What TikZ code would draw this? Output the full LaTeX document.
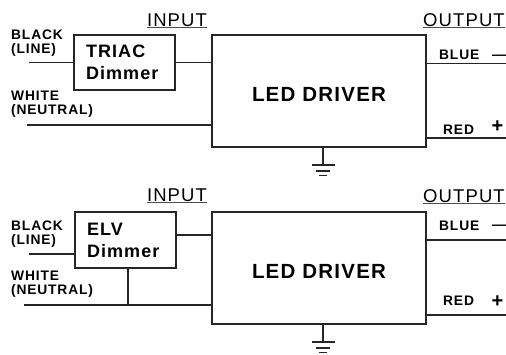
\documentclass[tikz,border=0pt]{standalone}
\usepackage{fontspec}
\setmainfont[LetterSpace=6]{Liberation Sans}
\usetikzlibrary{positioning}

\tikzset{
  wire/.style={draw=black!85, line width=1.8pt},
  box/.style={draw=black!85, line width=1.8pt, rectangle, inner sep=0pt},
  dimbox/.style={box, minimum height=55pt, inner xsep=12pt, text width=77pt, align=left,
    font=\bfseries\fontsize{18}{22}\selectfont},
  drvbox/.style={box, minimum width=214pt, minimum height=112pt, text height=21pt,
    font=\bfseries\fontsize{20.5}{22}\selectfont},
  tag/.style={inner sep=0pt, align=left, font=\bfseries\fontsize{13.8}{14}\selectfont},
  sign/.style={inner sep=0pt, font=\bfseries\fontsize{14}{14}\selectfont},
  head/.style={inner xsep=0pt, inner ysep=1.5pt, font=\fontsize{18.5}{20}\selectfont},
  uline/.style={draw=black!70, line width=1.2pt}
}

\begin{document}
\begin{tikzpicture}[x=1pt, y=-1pt]
 \useasboundingbox (0,0) rectangle (506,354);

 %panel 1: TRIAC
 \node[drvbox] (drv1) at (319,91) {LED DRIVER};
 \node[dimbox] (dim1) at (124.5,62.5) {TRIAC\\Dimmer};
 \node[head, anchor=base] (in1) at (177,26) {INPUT};
 \node[head, anchor=base east] (out1) at (505,26) {OUTPUT};
 \node[tag, anchor=base west] (blk1) at (11,53) {BLACK\\(LINE)};
 \node[tag, anchor=base west] (wht1) at (11,114) {WHITE\\(NEUTRAL)};
 \node[tag, anchor=base west] (blu1) at (439,59) {BLUE};
 \node[tag, anchor=base west] (red1) at (443,134) {RED};
 \node[sign] (mns1) at (499,57.5) {\textemdash};
 \node[sign, font=\bfseries\fontsize{20}{20}\selectfont] (pls1) at (497.5,127) {+};

 \coordinate (l1) at (29,62.5);
 \coordinate (n1) at (27,125);
 \coordinate (b1) at (506,63.5);
 \coordinate (r1) at (506,138);
 \coordinate (g1) at (323,165);
 \draw[wire] (l1) -- (dim1.west);
 \draw[wire] (dim1.east) -- (dim1.east -| drv1.west);
 \draw[wire] (n1) -- (n1 -| drv1.west);
 \draw[wire] (b1 -| drv1.east) -- (b1);
 \draw[wire] (r1 -| drv1.east) -- (r1);
 \draw[wire] (g1 |- drv1.south) -- (g1);

 %panel 2: ELV
 \node[drvbox] (drv2) at (319,268) {LED DRIVER};
 \node[dimbox, minimum height=56pt] (dim2) at (125.5,240) {ELV\\Dimmer};
 \node[head, anchor=base] (in2) at (177,201) {INPUT};
 \node[head, anchor=base east] (out2) at (505,202) {OUTPUT};
 \node[tag, anchor=base west] (blk2) at (11,244) {BLACK\\(LINE)};
 \node[tag, anchor=base west] (wht2) at (11,294) {WHITE\\(NEUTRAL)};
 \node[tag, anchor=base west] (blu2) at (439,230) {BLUE};
 \node[tag, anchor=base west] (red2) at (443,305) {RED};
 \node[sign] (mns2) at (499,227.5) {\textemdash};
 \node[sign, font=\bfseries\fontsize{20}{20}\selectfont] (pls2) at (497.5,301.5) {+};

 \coordinate (l2) at (29,254);
 \coordinate (e2) at (176,235);
 \coordinate (n2) at (24,305);
 \coordinate (j2) at (128,305);
 \coordinate (b2) at (506,240);
 \coordinate (r2) at (506,315);
 \coordinate (g2) at (323,342);
 \draw[wire] (l2) -- (l2 -| dim2.west);
 \draw[wire] (dim2.east |- e2) -- (e2 -| drv2.west);
 \draw[wire] (n2) -- (n2 -| drv2.west);
 \draw[wire] (j2 |- dim2.south) -- (j2);
 \draw[wire] (b2 -| drv2.east) -- (b2);
 \draw[wire] (r2 -| drv2.east) -- (r2);
 \draw[wire] (g2 |- drv2.south) -- (g2);

 %underlines and ground bars
 \foreach \h in {in1, out1, in2, out2}
   \draw[uline] (\h.south west) -- (\h.south east);
 \foreach \g in {g1, g2}
   \foreach \s/\w in {0/11.5, 6/7, 10.5/4}
     \draw[wire] ([xshift=-\w pt, yshift=-\s pt]\g) -- ([xshift=\w pt, yshift=-\s pt]\g);

\end{tikzpicture}
\end{document}
